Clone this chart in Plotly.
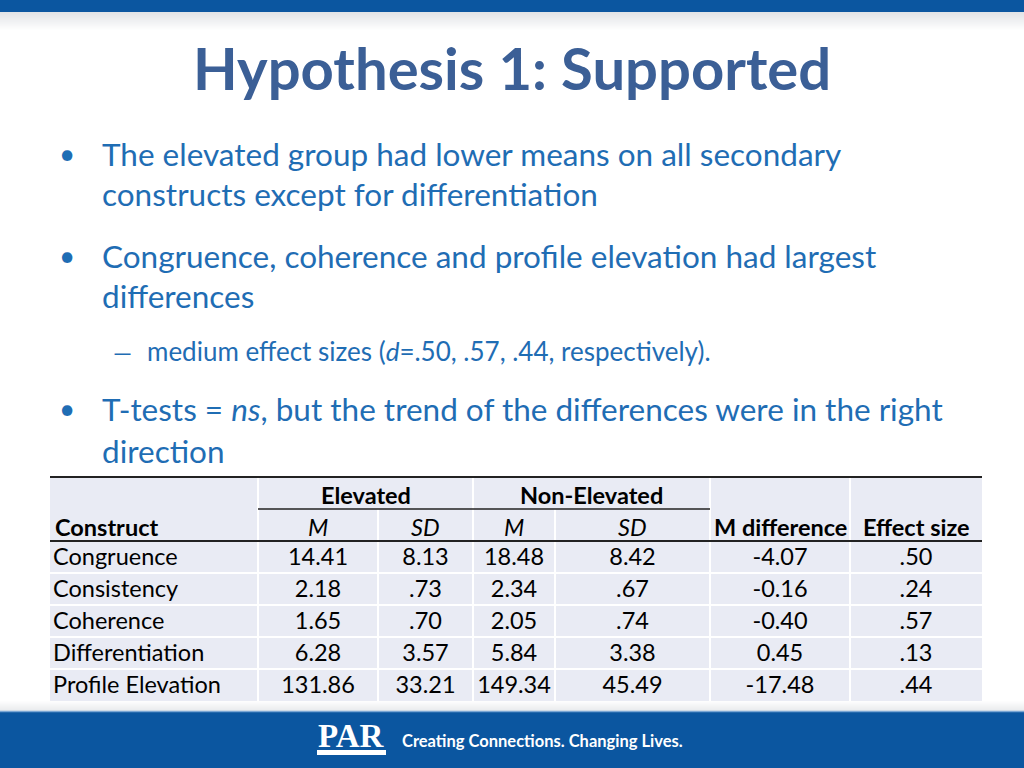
import plotly.graph_objects as go

# ---------------- data ----------------
title = "Hypothesis 1: Supported"
bullets = [
    ["The elevated group had lower means on all secondary",
     "constructs except for differentiation"],
    ["Congruence, coherence and profile elevation had largest",
     "differences"],
    ["T-tests = <i>ns</i>, but the trend of the differences were in the right",
     "direction"],
]
sub_bullet = "medium effect sizes (<i>d</i>=.50, .57, .44, respectively)."

constructs = ["Congruence", "Consistency", "Coherence", "Differentiation", "Profile Elevation"]
elev_m = [14.41, 2.18, 1.65, 6.28, 131.86]
elev_sd = [8.13, 0.73, 0.70, 3.57, 33.21]
non_m = [18.48, 2.34, 2.05, 5.84, 149.34]
non_sd = [8.42, 0.67, 0.74, 3.38, 45.49]
m_diff = [-4.07, -0.16, -0.40, 0.45, -17.48]
effect = [0.50, 0.24, 0.57, 0.13, 0.44]

group_labels = ["Elevated", "Non-Elevated"]
sub_labels = ["M", "SD", "M", "SD"]
header_labels = ["Construct", "M difference", "Effect size"]
footer_tag = "Creating Connections. Changing Lives."
logo = "PAR"

# ---------------- style / layout ----------------
W, H = 1024, 768
BLUE_BAR = "#0b56a0"
TITLE_C = "#3b5f96"
TEXT_C = "#1f6db4"
TABLE_BG = "#e9ebf4"
FONT = "Lato"

col_edges = [50, 258, 378, 473, 555, 710, 850, 982]
tbl_top, sub_line, hdr_bottom, row_h = 477, 509, 541, 32
n_rows = len(constructs)


def fmt_lead(v):
    s = f"{v:.2f}"
    if abs(v) < 1:
        s = s.replace("0.", ".", 1)
    return s


def fmt(v):
    return f"{v:.2f}"


fig = go.Figure()
shapes = []
annotations = []

# top bar with shadow
shapes.append(dict(type="rect", x0=0, x1=W, y0=0, y1=12, fillcolor=BLUE_BAR, line_width=0, layer="below"))
for i in range(18):
    a = 0.22 * (1 - i / 18)
    shapes.append(dict(type="rect", x0=0, x1=W, y0=12 + i, y1=13 + i,
                       fillcolor=f"rgba(120,130,145,{a:.3f})", line_width=0, layer="below"))

# footer with shadow
for i in range(11):
    a = 0.18 * (i / 11)
    shapes.append(dict(type="rect", x0=0, x1=W, y0=700 + i, y1=701 + i,
                       fillcolor=f"rgba(120,130,145,{a:.3f})", line_width=0, layer="below"))
shapes.append(dict(type="rect", x0=0, x1=W, y0=711, y1=H, fillcolor=BLUE_BAR, line_width=0, layer="below"))
shapes.append(dict(type="line", x0=0, x1=W, y0=711.5, y1=711.5, line=dict(color="#7aa6d4", width=1.5)))

# title
annotations.append(dict(x=W / 2, y=67, text=f"<b>{title}</b>", showarrow=False, xanchor="center",
                        yanchor="middle", font=dict(family=FONT, size=58, color=TITLE_C)))

# bullets
BFS = 31.5
line_y = [[154, 194], [256, 296], [409, 451]]
for b, ys in zip(bullets, line_y):
    annotations.append(dict(x=67, y=ys[0] - 1, text="•", showarrow=False, xanchor="center", yanchor="middle",
                            font=dict(family=FONT, size=28, color=TEXT_C)))
    for txt, yy in zip(b, ys):
        annotations.append(dict(x=100, y=yy, text=txt, showarrow=False, xanchor="left", yanchor="middle",
                                font=dict(family=FONT, size=BFS, color=TEXT_C)))
annotations.append(dict(x=122, y=351, text="—", showarrow=False, xanchor="center", yanchor="middle",
                        font=dict(family=FONT, size=24, color=TEXT_C)))
annotations.append(dict(x=145, y=351, text=sub_bullet, showarrow=False, xanchor="left", yanchor="middle",
                        font=dict(family=FONT, size=26, color=TEXT_C)))

# table background
tbl_bottom = hdr_bottom + n_rows * row_h
shapes.append(dict(type="rect", x0=col_edges[0], x1=col_edges[-1], y0=tbl_top, y1=tbl_bottom,
                   fillcolor=TABLE_BG, line_width=0, layer="below"))
# white grid
for j, xe in enumerate(col_edges[1:-1], start=1):
    y0 = sub_line if j in (2, 4) else tbl_top
    shapes.append(dict(type="line", x0=xe, x1=xe, y0=y0, y1=tbl_bottom, line=dict(color="white", width=2)))
for i in range(1, n_rows):
    yy = hdr_bottom + i * row_h
    shapes.append(dict(type="line", x0=col_edges[0], x1=col_edges[-1], y0=yy, y1=yy,
                       line=dict(color="white", width=2)))
# black rules
shapes.append(dict(type="line", x0=col_edges[0], x1=col_edges[-1], y0=tbl_top, y1=tbl_top,
                   line=dict(color="#222222", width=2)))
shapes.append(dict(type="line", x0=col_edges[1], x1=col_edges[5], y0=sub_line, y1=sub_line,
                   line=dict(color="#222222", width=1.5)))
shapes.append(dict(type="line", x0=col_edges[0], x1=col_edges[-1], y0=hdr_bottom, y1=hdr_bottom,
                   line=dict(color="#222222", width=2)))

centers = [(col_edges[k] + col_edges[k + 1]) / 2 for k in range(len(col_edges) - 1)]
TFS = 23.5
# headers
h1y = (tbl_top + sub_line) / 2 + 2
h2y = (sub_line + hdr_bottom) / 2 + 2
annotations.append(dict(x=(col_edges[1] + col_edges[3]) / 2, y=h1y, text=f"<b>{group_labels[0]}</b>",
                        showarrow=False, font=dict(family=FONT, size=TFS, color="black")))
annotations.append(dict(x=(col_edges[3] + col_edges[5]) / 2, y=h1y, text=f"<b>{group_labels[1]}</b>",
                        showarrow=False, font=dict(family=FONT, size=TFS, color="black")))
for k, lab in enumerate(sub_labels):
    annotations.append(dict(x=centers[k + 1], y=h2y, text=f"<i>{lab}</i>", showarrow=False,
                            font=dict(family=FONT, size=TFS, color="black")))
annotations.append(dict(x=col_edges[0] + 3, y=h2y, text=f"<b>{header_labels[0]}</b>", showarrow=False,
                        xanchor="left", font=dict(family=FONT, size=TFS, color="black")))
annotations.append(dict(x=centers[5], y=h2y, text=f"<b>{header_labels[1]}</b>", showarrow=False,
                        font=dict(family=FONT, size=TFS, color="black")))
annotations.append(dict(x=centers[6], y=h2y, text=f"<b>{header_labels[2]}</b>", showarrow=False,
                        font=dict(family=FONT, size=TFS, color="black")))

# body cells via text traces
row_y = [hdr_bottom + (i + 0.5) * row_h + 2.5 for i in range(n_rows)]
fig.add_trace(go.Scatter(x=[col_edges[0] + 3] * n_rows, y=row_y, text=constructs, mode="text",
                         textposition="middle right", textfont=dict(family=FONT, size=TFS, color="black"),
                         hoverinfo="skip", cliponaxis=False, showlegend=False))
cols = [
    [fmt(v) for v in elev_m],
    [fmt_lead(v) for v in elev_sd],
    [fmt(v) for v in non_m],
    [fmt_lead(v) for v in non_sd],
    [fmt(v) for v in m_diff],
    [fmt_lead(v) for v in effect],
]
for k, vals in enumerate(cols):
    fig.add_trace(go.Scatter(x=[centers[k + 1]] * n_rows, y=row_y, text=vals, mode="text",
                             textposition="middle center",
                             textfont=dict(family=FONT, size=TFS, color="black"),
                             hoverinfo="skip", cliponaxis=False, showlegend=False))

# footer logo + tagline
annotations.append(dict(x=351, y=736, text=f"<b>{logo}</b>", showarrow=False, xanchor="center",
                        yanchor="middle", font=dict(family="Liberation Serif", size=33, color="white")))
shapes.append(dict(type="rect", x0=317, x1=386, y0=750, y1=755, fillcolor="white", line_width=0))
annotations.append(dict(x=400, y=741, text=f"<b>{footer_tag}</b>", showarrow=False, xanchor="left",
                        yanchor="middle", font=dict(family=FONT, size=16.5, color="white")))

fig.update_layout(
    width=W, height=H, margin=dict(l=0, r=0, t=0, b=0),
    paper_bgcolor="white", plot_bgcolor="white",
    xaxis=dict(range=[0, W], visible=False, fixedrange=True),
    yaxis=dict(range=[H, 0], visible=False, fixedrange=True),
    shapes=shapes, annotations=annotations, showlegend=False,
)
fig.write_html("out.html", config={"displayModeBar": False},
               post_script="document.body.style.margin='0px';document.body.style.overflow='hidden';")
